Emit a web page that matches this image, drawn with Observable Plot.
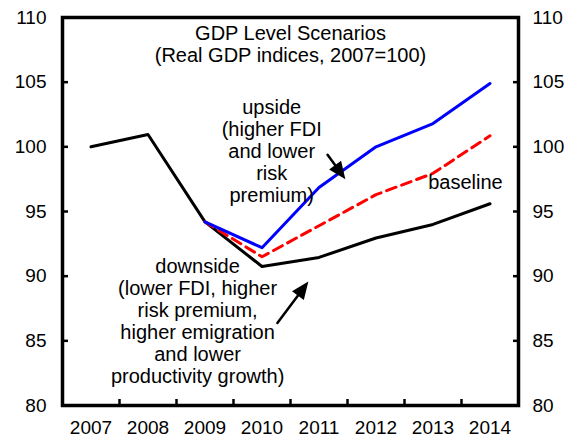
<!DOCTYPE html>
<html>
<head>
<meta charset="utf-8">
<script src="https://cdn.jsdelivr.net/npm/d3@7"></script>
<script src="https://cdn.jsdelivr.net/npm/@observablehq/plot@0.6"></script>
<style>
  html, body { margin: 0; padding: 0; background: #fff; }
  #chart svg { display: block; }
</style>
</head>
<body>
<div id="chart"></div>
<script>
// ---- data ----
const years = [2007, 2008, 2009, 2010, 2011, 2012, 2013, 2014];
const downside = [100.0, 100.95, 94.2, 90.75, 91.45, 92.95, 94.0, 95.6];
const baseline = [null, null, 94.2, 91.5, 93.9, 96.3, 97.95, 100.85];
const upside   = [null, null, 94.2, 92.2, 96.85, 100.0, 101.8, 104.9];
const yTicks = [80, 85, 90, 95, 100, 105, 110];
const yearBoundaries = [2007.5, 2008.5, 2009.5, 2010.5, 2011.5, 2012.5, 2013.5];

const titleText = "GDP Level Scenarios\n(Real GDP indices, 2007=100)";
const annotations = [
  {x: 2010.17, y: 99.7, text: "upside\n(higher FDI\nand lower\nrisk\npremium)"},
  {x: 2013.57, y: 97.25, text: "baseline"},
  {x: 2008.87, y: 86.5, text: "downside\n(lower FDI, higher\nrisk premium,\nhigher emigration\nand lower\nproductivity growth)"}
];
const arrows = [
  {x1: 2011.15, y1: 99.38, x2: 2011.43, y2: 97.69},
  {x1: 2010.27, y1: 86.38, x2: 2010.78, y2: 89.38}
];

const toRows = (vals, name) => years.map((yr, i) => ({year: yr, value: vals[i], series: name})).filter(d => d.value != null);
const downRows = toRows(downside, "downside");
const baseRows = toRows(baseline, "baseline");
const upRows = toRows(upside, "upside");

const font = "'Liberation Sans', Arial, sans-serif";

const layout = {
  width: 573,
  height: 438,
  marginLeft: 62,
  marginRight: 55,
  marginTop: 17,
  marginBottom: 33,
  x: {domain: [2006.5, 2014.5]},
  y: {domain: [80, 110]}
};

// use the library's scales to orient the filled arrow heads
const probe = Plot.plot({...layout, marks: [Plot.frame()]});
const X = probe.scale("x"), Y = probe.scale("y");
const arrowRows = arrows.map(a => {
  const dx = X.apply(a.x2) - X.apply(a.x1);
  const dy = Y.apply(a.y2) - Y.apply(a.y1);
  return {...a, len: Math.hypot(dx, dy), rot: Math.atan2(dx, -dy) * 180 / Math.PI};
});
const filledArrow = {
  draw(context, l) {
    const h = 13, w = 5.5;
    context.moveTo(0, 0);
    context.lineTo(0, -l + h * 0.7);
    context.moveTo(0, -l);
    context.lineTo(-w, -l + h);
    context.lineTo(w, -l + h);
    context.closePath();
  }
};

const chart = Plot.plot({
  ...layout,
  length: {type: "identity"},
  style: {fontFamily: font, fontSize: "19px", color: "#000", background: "#fff"},
  marks: [
    // y axes: labels + inward ticks
    Plot.axisY({anchor: "left", ticks: yTicks, tickSize: 0, tickPadding: 16, label: null, fontSize: 19}),
    Plot.axisY({anchor: "right", ticks: yTicks, tickSize: 0, tickPadding: 14, label: null, fontSize: 19}),
    Plot.axisY({anchor: "left", ticks: yTicks, tickSize: -6, strokeWidth: 2.5, tickFormat: () => "", label: null}),
    Plot.axisY({anchor: "right", ticks: yTicks, tickSize: -6, strokeWidth: 2.5, tickFormat: () => "", label: null}),
    // x axis: labels at year centres, ticks at boundaries
    Plot.axisX({anchor: "bottom", ticks: years, tickSize: 0, tickPadding: 15, tickFormat: d => String(d), label: null, fontSize: 19}),
    Plot.axisX({anchor: "bottom", ticks: yearBoundaries, tickSize: -6, strokeWidth: 2.5, tickFormat: () => "", label: null}),
    Plot.frame({stroke: "#000", strokeWidth: 3.5}),
    // title
    Plot.text([titleText], {frameAnchor: "top", lineAnchor: "top", dy: 7, lineHeight: 1.1, fontSize: 20, fill: "#000"}),
    // lines
    Plot.line(downRows, {x: "year", y: "value", stroke: "#000", strokeWidth: 3}),
    Plot.line(baseRows, {x: "year", y: "value", stroke: "#ff0000", strokeWidth: 3, strokeDasharray: "10,6"}),
    Plot.line(upRows, {x: "year", y: "value", stroke: "#0000ff", strokeWidth: 3}),
    // annotations
    Plot.text(annotations, {x: "x", y: "y", text: "text", lineAnchor: "middle", textAnchor: "middle", lineHeight: 1.1, fontSize: 20, fill: "#000"}),
    Plot.vector(arrowRows, {x: "x1", y: "y1", length: "len", rotate: "rot", anchor: "start", shape: filledArrow, stroke: "#000", fill: "#000", strokeWidth: 2.5, strokeLinejoin: "miter"})
  ]
});

document.getElementById("chart").appendChild(chart);
</script>
</body>
</html>
